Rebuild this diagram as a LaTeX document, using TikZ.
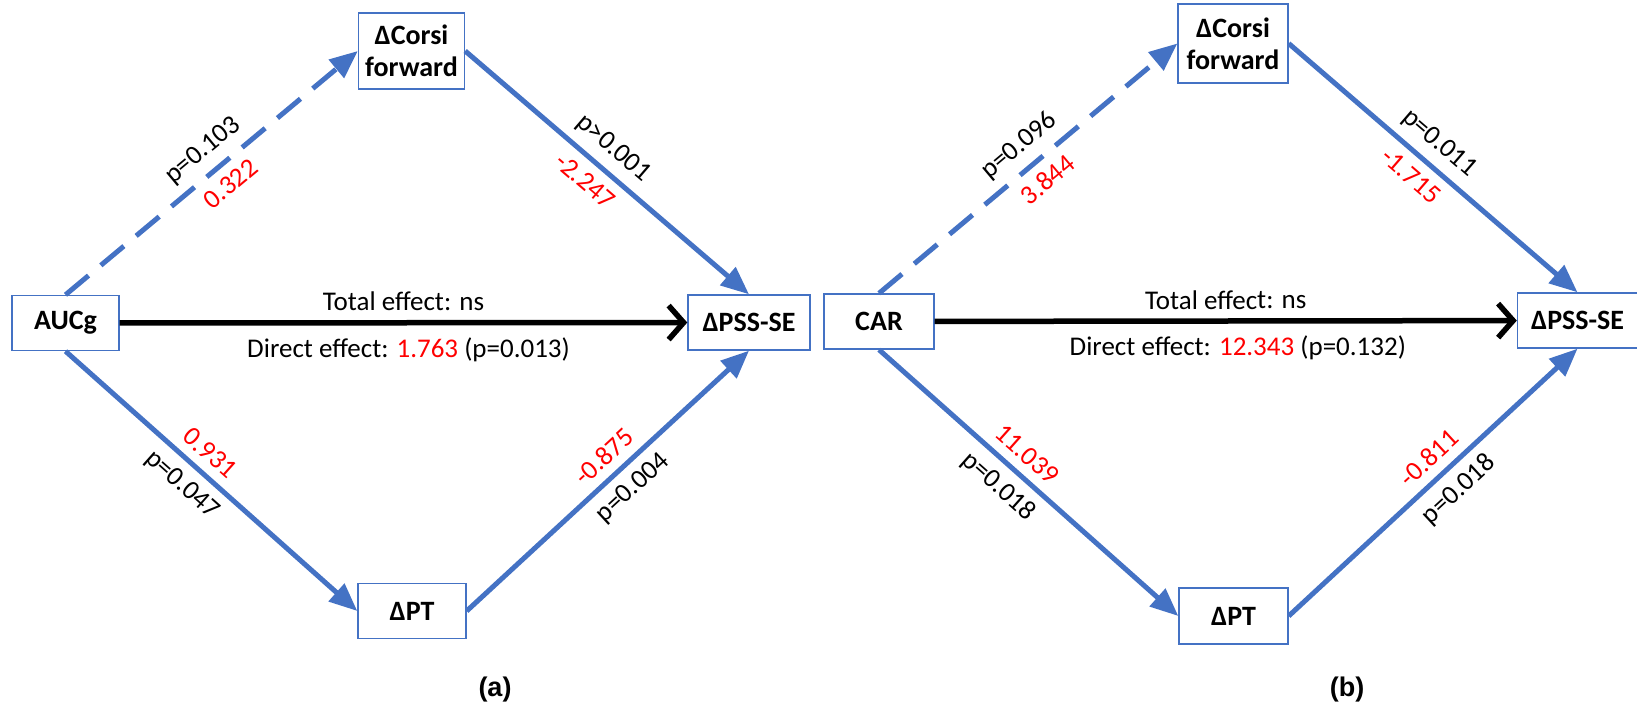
\documentclass[tikz,border=0pt]{standalone}
\usepackage{fontspec}
\setmainfont{Carlito}
\newfontfamily\panelfont{Liberation Sans}
\usetikzlibrary{positioning,arrows.meta}
\definecolor{medblue}{HTML}{4472C4}
\definecolor{coefred}{HTML}{FF0000}
\tikzset{var/.style={draw=medblue,line width=1.4pt,fill=white,align=center,inner sep=2pt,
		minimum height=55pt,font=\bfseries\fontsize{28}{32}\selectfont},
	 medarrow/.style={draw=medblue,line width=5pt,-{Triangle[length=28pt,width=23pt]}},
	 nsarrow/.style={medarrow,dash pattern=on 30pt off 16pt},
	 directarrow/.style={line width=5.5pt,-{Straight Barb[length=15pt,width=34pt]}},
	 lab/.style={sloped,inner sep=9pt,font=\fontsize{27}{28}\selectfont},
	 coef/.style={lab,text=coefred},
	 panel/.style={font=\panelfont\bfseries\fontsize{27}{28}\selectfont}
	 }

\begin{document}
\begin{tikzpicture}[x=1pt,y=1pt] % AUCg and CAR mediation models
	\useasboundingbox (0,0) rectangle (1637,705);
	% (a) AUCg
	\node[var,minimum width=107pt] (auc) at (65.5,382) {AUCg};
	\node[var,minimum width=106pt,minimum height=76pt] (corsiA) at (411.5,654) {ΔCorsi\\forward};
	\node[var,minimum width=122pt] (pssA) at (749,382.5) {ΔPSS-SE};
	\node[var,minimum width=108pt] (ptA) at (412,94) {ΔPT};
	\node[panel] (labA) at (495,15.5) {(a)};
	\draw[nsarrow] (auc.north) -- (corsiA.west)
		node[lab,pos=0.52,above] {p=0.103} node[coef,pos=0.52,below] {0.322};
	\draw[medarrow] (corsiA.east) -- (pssA.north)
		node[lab,pos=0.47,above] {p>0.001} node[coef,pos=0.47,below] {-2.247};
	\draw[medarrow] (auc.south) -- (ptA.west)
		node[coef,pos=0.45,above] {0.931} node[lab,pos=0.45,below] {p=0.047};
	\draw[medarrow] (ptA.east) -- (pssA.south)
		node[coef,pos=0.535,above] {-0.875} node[lab,pos=0.535,below] {p=0.004};
	\draw[directarrow] (auc) -- (pssA)
		node[lab,pos=0.5,above] {Total effect: ns}
		node[lab,pos=0.5,below,xshift=5pt,yshift=-3pt] {Direct effect: \textcolor{coefred}{1.763} (p=0.013)};
	% (b) CAR
	\node[var,minimum width=110pt] (car) at (879,383.5) {CAR};
	\node[var,minimum width=110pt,minimum height=79pt] (corsiB) at (1233,661.5) {ΔCorsi\\forward};
	\node[var,minimum width=120pt] (pssB) at (1577.5,384.5) {ΔPSS-SE};
	\node[var,minimum width=109pt,minimum height=56pt] (ptB) at (1233.5,89) {ΔPT};
	\node[panel] (labB) at (1347,15.5) {(b)};
	\draw[nsarrow] (car.north) -- (corsiB.west)
		node[lab,pos=0.52,above] {p=0.096} node[coef,pos=0.52,below] {3.844};
	\draw[medarrow] (corsiB.east) -- (pssB.north)
		node[lab,pos=0.47,above] {p=0.011} node[coef,pos=0.47,below] {-1.715};
	\draw[medarrow] (car.south) -- (ptB.west)
		node[coef,pos=0.45,above] {11.039} node[lab,pos=0.45,below] {p=0.018};
	\draw[medarrow] (ptB.east) -- (pssB.south)
		node[coef,pos=0.535,above] {-0.811} node[lab,pos=0.535,below] {p=0.018};
	\draw[directarrow] (car) -- (pssB)
		node[lab,pos=0.5,above] {Total effect: ns}
		node[lab,pos=0.5,below,xshift=12pt,yshift=-3pt] {Direct effect: \textcolor{coefred}{12.343} (p=0.132)};
\end{tikzpicture}
\end{document}
